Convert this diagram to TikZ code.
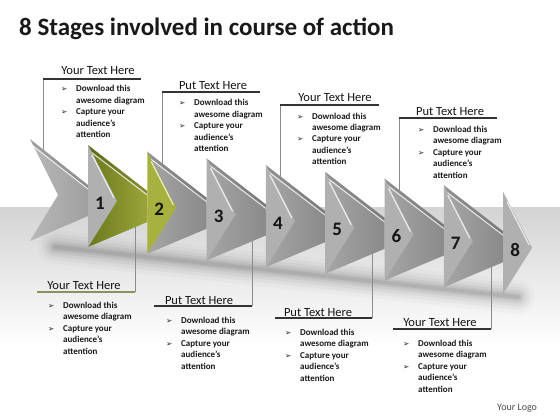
\documentclass[tikz,border=0pt]{standalone}
\usepackage{fontspec}
\setmainfont{Carlito}
\newfontfamily\dejavu{DejaVu Sans}
\definecolor{dgA}{HTML}{A6A6A6}
\definecolor{dgB}{HTML}{8A8A8A}
\definecolor{d1A}{HTML}{B8B8B8}
\definecolor{d1B}{HTML}{A0A0A0}
\definecolor{grA}{HTML}{6C781E}
\definecolor{grB}{HTML}{9AA53A}
\definecolor{lgray}{HTML}{B0B0B0}
\definecolor{lgreen}{HTML}{A6B140}
\definecolor{uol}{HTML}{8C9060}
\newcommand\bul{\makebox[15pt][l]{\dejavu\fontsize{7.5}{7.5}\selectfont ➢}}
\newcommand\cbody{\begin{tabular}[t]{@{}l@{}l@{}}\bul&Download this\\ &awesome diagram\\ \bul&Capture your\\ &audience’s\\ &attention\end{tabular}}
\tikzset{
 head/.style={font={\fontsize{12.5}{14}\selectfont}, text=black!92, inner sep=0pt, anchor=base},
 body/.style={font={\fontsize{9}{11.5}\selectfont\bfseries}, text=black!90, inner sep=0pt, anchor=base west},
 uline/.style={line width=1.1pt, black!80},
 leader/.style={line width=0.5pt, black!45},
 num/.style={font={\fontsize{19}{19}\selectfont\bfseries}, text=black!92, inner sep=0pt},
}
\begin{document}
\begin{tikzpicture}[x=1pt,y=-1pt]
\useasboundingbox (0,0) rectangle (560,420);
\fill[white] (0,0) rectangle (560,420);
\shade[top color=black!17, bottom color=white] (0,207) rectangle (560,345);
% shadow under arrows
\coordinate (sh1) at (55,247);
\coordinate (sh2) at (518,297);
\foreach \w/\o in {34/0.02,26/0.03,19/0.04,13/0.05,8/0.06,4/0.07}{
  \draw[line width=\w pt, black, opacity=\o, line cap=round] (sh1) -- (sh2);
}
% title
\node[anchor=base west, inner sep=0pt, font={\fontsize{25}{28}\selectfont\bfseries}, text=black!90] (title) at (19,36) {8 Stages involved in course of action};
% ---------- callouts: coordinates
\coordinate (u1a) at (43,79);  \coordinate (u1b) at (141,79);  \coordinate (e1) at (43,152);
\coordinate (u2a) at (162,92); \coordinate (u2b) at (260,92);  \coordinate (e2) at (162,166);
\coordinate (u3a) at (280,105);\coordinate (u3b) at (379,105); \coordinate (e3) at (280,180);
\coordinate (u4a) at (399,118);\coordinate (u4b) at (497,118); \coordinate (e4) at (399,193);
\coordinate (u5a) at (37,292); \coordinate (u5b) at (135,292); \coordinate (e5) at (135,222);
\coordinate (u6a) at (154,306);\coordinate (u6b) at (252,306); \coordinate (e6) at (252,236);
\coordinate (u7a) at (275,318);\coordinate (u7b) at (372,318); \coordinate (e7) at (372,248);
\coordinate (u8a) at (393,329);\coordinate (u8b) at (491,329); \coordinate (e8) at (491,262);
\draw[leader] (u1a) -- (e1);
\draw[leader] (u2a) -- (e2);
\draw[leader] (u3a) -- (e3);
\draw[leader] (u4a) -- (e4);
\draw[leader] (u5b) -- (e5);
\draw[leader] (u6b) -- (e6);
\draw[leader] (u7b) -- (e7);
\draw[leader] (u8b) -- (e8);
\draw[uline] (u1a) -- (u1b);
\draw[uline] (u2a) -- (u2b);
\draw[uline] (u3a) -- (u3b);
\draw[uline] (u4a) -- (u4b);
\draw[uline, uol] (u5a) -- (u5b);
\draw[uline] (u6a) -- (u6b);
\draw[uline] (u7a) -- (u7b);
\draw[uline] (u8a) -- (u8b);
\node[head] (h1) at (98,75) {Your Text Here};
\node[head] (h2) at (213,89) {Put Text Here};
\node[head] (h3) at (335,102) {Your Text Here};
\node[head] (h4) at (450,115) {Put Text Here};
\node[head] (h5) at (84,289) {Your Text Here};
\node[head] (h6) at (199,304) {Put Text Here};
\node[head] (h7) at (318,316) {Put Text Here};
\node[head] (h8) at (440,326) {Your Text Here};
\node[body] (b1) at (61,92) {\cbody};
\node[body] (b2) at (179,106) {\cbody};
\node[body] (b3) at (297,119) {\cbody};
\node[body] (b4) at (418,132) {\cbody};
\node[body] (b5) at (48,308) {\cbody};
\node[body] (b6) at (166,323) {\cbody};
\node[body] (b7) at (285,335) {\cbody};
\node[body] (b8) at (403,346) {\cbody};
% ---------- arrows: dark faces
\foreach \k/\ca/\cb in {1/d1A/d1B,2/grA/grB,3/dgA/dgB,4/dgA/dgB,5/dgA/dgB,6/dgA/dgB,7/dgA/dgB,8/dgA/dgB}{
  \pgfmathsetmacro\La{ifthenelse(\k==1,30,88+59.3*(\k-2))}
  \pgfmathsetmacro\Ta{ifthenelse(\k==1,139,145+6.7*(\k-2))}
  \pgfmathsetmacro\Lb{88+59.3*(\k-1)}
  \pgfmathsetmacro\yB{\Ta+46}
  \pgfmathsetmacro\yC{\Ta+77}
  \pgfmathsetmacro\yD{\Ta+102}
  \pgfmathsetmacro\xN{\La+28}
  \pgfmathsetmacro\yN{\Ta+56}
  \pgfmathsetmacro\xs{\La+2}
  \pgfmathsetmacro\ys{\Ta+5}
  \pgfmathsetmacro\xh{\La+3}
  \pgfmathsetmacro\yh{\Ta+7}
  \pgfmathsetmacro\yBs{\Ta+50}
  \shade[left color=\ca, right color=\cb] (\La,\Ta) -- (\Lb,\yB) -- (\Lb,\yC) -- (\La,\yD) -- (\xN,\yN) -- cycle;
  \fill[black, opacity=0.12] (\La,\Ta) -- (\Lb,\yB) -- (\Lb,\yBs) -- (\xs,\ys) -- cycle;
  \draw[white, opacity=0.8, line width=1pt] (\xh,\yh) -- (\Lb,\yBs);
}
% ---------- arrows: light tip faces and numbers
\foreach \k/\cl in {1/lgray,2/lgreen,3/lgray,4/lgray,5/lgray,6/lgray,7/lgray,8/lgray}{
  \pgfmathsetmacro\Lb{88+59.3*(\k-1)}
  \pgfmathsetmacro\Tb{145+6.7*(\k-1)}
  \pgfmathsetmacro\xT{\Lb+29}
  \pgfmathsetmacro\yT{\Tb+56}
  \pgfmathsetmacro\yQ{\Tb+102}
  \pgfmathsetmacro\xa{\Lb+4}
  \pgfmathsetmacro\ya{\Tb+10}
  \pgfmathsetmacro\xc{\Lb+26}
  \pgfmathsetmacro\yc{\Tb+53}
  \pgfmathsetmacro\xl{\Lb+12}
  \pgfmathsetmacro\yl{\Tb+58}
  \fill[\cl] (\Lb,\Tb) -- (\xT,\yT) -- (\Lb,\yQ) -- cycle;
  \draw[white, opacity=0.8, line width=1.1pt] (\xa,\ya) -- (\xc,\yc);
  \node[num] (n\k) at (\xl,\yl) {\k};
}
\node[anchor=base west, inner sep=0pt, font={\fontsize{10}{12}\selectfont}, text=black!70] (logo) at (497,410) {Your Logo};
\end{tikzpicture}
\end{document}
